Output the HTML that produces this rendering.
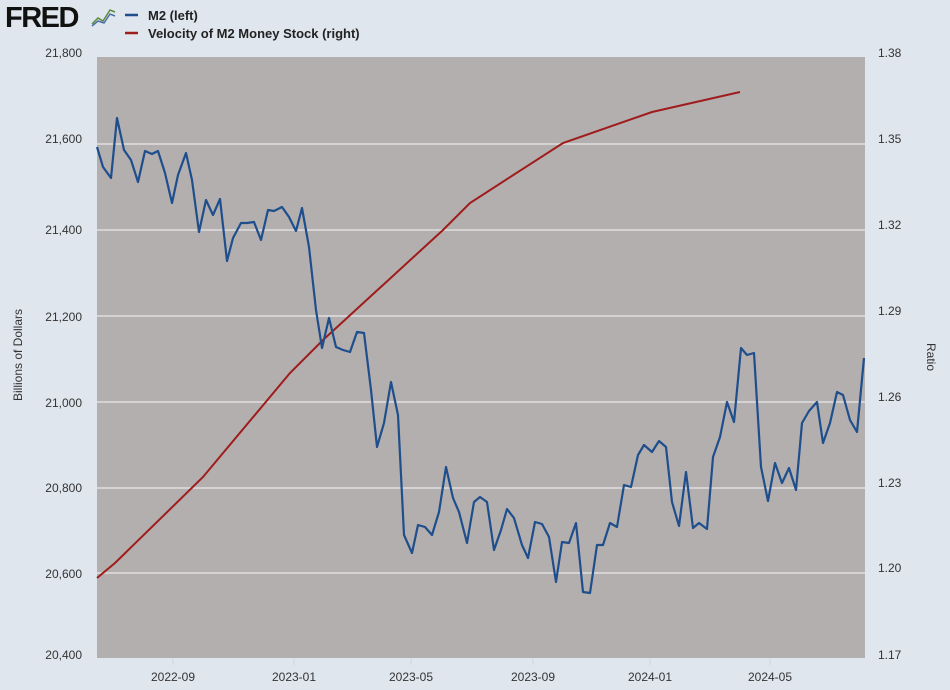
<!DOCTYPE html>
<html><head><meta charset="utf-8"><style>
html,body{margin:0;padding:0;background:#dfe6ee;}
svg{display:block;font-family:"Liberation Sans",sans-serif;}
</style></head><body>
<svg width="950" height="690" viewBox="0 0 950 690" xmlns="http://www.w3.org/2000/svg">
<rect width="950" height="690" fill="#dfe6ee"/>
<text x="5" y="27" font-size="29" font-weight="bold" fill="#111" letter-spacing="-1.5">FRED</text>
<polyline points="92,24 98,18 103,21 110,10 115,12" fill="none" stroke="#5a8a3a" stroke-width="1.5"/>
<polyline points="92,26 98,21 104,23 110,14 115,16" fill="none" stroke="#4a6fa5" stroke-width="1.5"/>
<line x1="125" y1="15" x2="138" y2="15" stroke="#1f4e8c" stroke-width="2.5"/>
<text x="148" y="20" font-size="13" font-weight="bold" fill="#222">M2 (left)</text>
<line x1="125" y1="33" x2="138" y2="33" stroke="#a01c1c" stroke-width="2.5"/>
<text x="148" y="38" font-size="13" font-weight="bold" fill="#222">Velocity of M2 Money Stock (right)</text>
<rect x="97" y="57" width="768" height="601" fill="#b3afaf"/>
<g stroke="#e8e8e8" stroke-width="1.3">
<line x1="97" x2="865" y1="144" y2="144"/><line x1="97" x2="865" y1="230" y2="230"/>
<line x1="97" x2="865" y1="316" y2="316"/><line x1="97" x2="865" y1="402" y2="402"/>
<line x1="97" x2="865" y1="488" y2="488"/><line x1="97" x2="865" y1="573" y2="573"/>
</g>
<g stroke="#cfd6de" stroke-width="1">
<line x1="173" x2="173" y1="658" y2="665"/><line x1="294" x2="294" y1="658" y2="665"/>
<line x1="411" x2="411" y1="658" y2="665"/><line x1="533" x2="533" y1="658" y2="665"/>
<line x1="650" x2="650" y1="658" y2="665"/><line x1="770" x2="770" y1="658" y2="665"/>
</g>
<g font-size="12" fill="#333" text-anchor="end">
<text x="82" y="57">21,800</text><text x="82" y="143">21,600</text><text x="82" y="234">21,400</text>
<text x="82" y="321">21,200</text><text x="82" y="407">21,000</text><text x="82" y="492">20,800</text>
<text x="82" y="578">20,600</text><text x="82" y="659">20,400</text>
</g>
<g font-size="12" fill="#333" text-anchor="start">
<text x="878" y="57">1.38</text><text x="878" y="143">1.35</text><text x="878" y="229">1.32</text>
<text x="878" y="315">1.29</text><text x="878" y="401">1.26</text><text x="878" y="487">1.23</text>
<text x="878" y="572">1.20</text><text x="878" y="659">1.17</text>
</g>
<g font-size="12" fill="#333" text-anchor="middle">
<text x="173" y="681">2022-09</text><text x="294" y="681">2023-01</text><text x="411" y="681">2023-05</text>
<text x="533" y="681">2023-09</text><text x="650" y="681">2024-01</text><text x="770" y="681">2024-05</text>
</g>
<text transform="translate(22,355) rotate(-90)" font-size="12" fill="#333" text-anchor="middle">Billions of Dollars</text>
<text transform="translate(927,357) rotate(90)" font-size="12" fill="#333" text-anchor="middle">Ratio</text>
<polyline fill="none" stroke="#a01c1c" stroke-width="2" points="97,578 115,563 203,477 290,373 323,340 443,230 470,203 563,143 652,112 740,92"/>
<polyline fill="none" stroke="#1f4e8c" stroke-width="2.2" stroke-linejoin="round" points="97,147 103,167 111,178 117,118 124,150 131,160 138,182 145,151 152,154 158,151 165,173 172,203 178,175 186,153 192,180 199,232 206,200 213,215 220,199 227,261 233,238 241,223 247,223 254,222 261,240 268,210 274,211 282,207 289,217 296,231 302,208 309,247 316,310 322,348 329,318 336,347 343,350 350,352 357,332 364,333 371,390 377,447 384,423 391,382 398,415 404,535 412,553 418,525 425,527 432,535 439,512 446,467 453,498 459,512 467,543 474,502 480,497 487,502 494,550 501,530 507,509 514,518 522,545 528,558 535,522 542,524 549,537 556,582 562,542 569,543 576,523 583,592 590,593 597,545 603,545 610,523 617,527 624,485 631,487 638,455 644,445 652,452 659,441 666,447 672,502 679,526 686,472 693,528 699,523 707,529 713,457 720,437 727,402 734,422 741,348 747,355 754,353 761,467 768,501 775,463 782,483 789,468 796,490 802,423 809,411 817,402 823,443 830,423 837,392 843,395 850,420 857,432 864,358"/>
</svg>
</body></html>
